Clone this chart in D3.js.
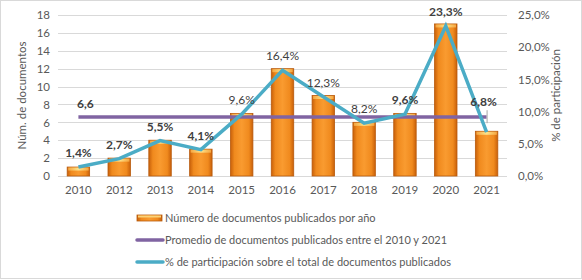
<!DOCTYPE html>
<html>
<head>
<meta charset="utf-8">
<script src="https://cdn.jsdelivr.net/npm/d3@7"></script>
<style>
  html, body { margin: 0; padding: 0; background: #fff; }
  svg { display: block; font-family: Lato, "Open Sans", sans-serif; }
</style>
</head>
<body>
<svg id="chart" width="582" height="280"></svg>
<script>
// --- Data ---
const years = ['2010', '2012', '2013', '2014', '2015', '2016', '2017', '2018', '2019', '2020', '2021'];
const docCounts = [1, 2, 4, 3, 7, 12, 9, 6, 7, 17, 5];
const shareLabels = ['1,4%', '2,7%', '5,5%', '4,1%', '9,6%', '16,4%', '12,3%', '8,2%', '9,6%', '23,3%', '6,8%'];
const shares = [1.4, 2.7, 5.5, 4.1, 9.6, 16.4, 12.3, 8.2, 9.6, 23.3, 6.8];
const average = 6.6;
const leftTicks = [0, 2, 4, 6, 8, 10, 12, 14, 16, 18];
const rightTicks = [0, 5, 10, 15, 20, 25];
const legendLabels = [
    'Número de documentos publicados por año',
    'Promedio de documentos publicados entre el 2010 y 2021',
    '% de participación sobre el total de documentos publicados'
];

const TEXT = '#595959';
const PURPLE = '#8064a2';
const AQUA = '#4bacc6';

const svg = d3.select('#chart');
const plot = { left: 58, right: 507, top: 15, bottom: 176 };

const x = d3.scaleBand().domain(years).range([plot.left, plot.right]).paddingInner(0.45).paddingOuter(0.225);
const y = d3.scaleLinear().domain([0, 18]).range([plot.bottom, plot.top]);
const y2 = d3.scaleLinear().domain([0, 25]).range([plot.bottom, plot.top]);
const cx = d => x(d) + x.bandwidth() / 2;

// frame
svg.append('rect').attr('x', 0.5).attr('y', 0.5).attr('width', 581).attr('height', 278)
   .attr('fill', '#fff').attr('stroke', '#d9d9d9');

// gradients for bars
const defs = svg.append('defs');
const grad = defs.append('linearGradient').attr('id', 'barGrad').attr('x1', '0%').attr('x2', '100%');
grad.append('stop').attr('offset', '0%').attr('stop-color', '#c8600a');
grad.append('stop').attr('offset', '18%').attr('stop-color', '#f08a1e');
grad.append('stop').attr('offset', '50%').attr('stop-color', '#f99b30');
grad.append('stop').attr('offset', '82%').attr('stop-color', '#f08a1e');
grad.append('stop').attr('offset', '100%').attr('stop-color', '#c8600a');
const topGrad = defs.append('linearGradient').attr('id', 'topGrad').attr('x1', '0%').attr('x2', '100%');
topGrad.append('stop').attr('offset', '0%').attr('stop-color', '#f5a640');
topGrad.append('stop').attr('offset', '50%').attr('stop-color', '#fde38a');
topGrad.append('stop').attr('offset', '100%').attr('stop-color', '#f5a640');

// gridlines
svg.append('g').selectAll('line').data(leftTicks.slice(1)).join('line')
   .attr('x1', plot.left).attr('x2', plot.right)
   .attr('y1', d => Math.round(y(d)) + 0.5).attr('y2', d => Math.round(y(d)) + 0.5)
   .attr('stroke', '#d9d9d9').attr('stroke-width', 1);

// left axis
const axL = svg.append('g').attr('transform', `translate(${plot.left},0)`)
   .call(d3.axisLeft(y).tickValues(leftTicks).tickSize(0).tickPadding(8));
axL.select('.domain').remove();
axL.selectAll('text').attr('fill', TEXT).style('font-size', '11.5px').style('font-family', 'Lato, sans-serif');

// right axis
const axR = svg.append('g').attr('transform', `translate(${plot.right},0)`)
   .call(d3.axisRight(y2).tickValues(rightTicks).tickSize(0).tickPadding(11)
         .tickFormat(d => d.toFixed(1).replace('.', ',') + '%'));
axR.select('.domain').remove();
axR.selectAll('text').attr('fill', TEXT).style('font-size', '11.5px').style('font-family', 'Lato, sans-serif');

// bottom axis
svg.append('line').attr('x1', plot.left).attr('x2', plot.right)
   .attr('y1', plot.bottom + 0.5).attr('y2', plot.bottom + 0.5).attr('stroke', '#d9d9d9');
const axB = svg.append('g').attr('transform', `translate(0,${plot.bottom})`)
   .call(d3.axisBottom(x).tickSize(0).tickPadding(10));
axB.select('.domain').remove();
axB.selectAll('text').attr('fill', TEXT).style('font-size', '11.5px').style('font-family', 'Lato, sans-serif');

// axis titles
svg.append('text').attr('transform', `translate(26,${(plot.top + plot.bottom) / 2}) rotate(-90)`)
   .attr('text-anchor', 'middle').attr('fill', TEXT).style('font-size', '11.5px')
   .text('Núm. de documentos');
svg.append('text').attr('transform', `translate(560,${(plot.top + plot.bottom) / 2}) rotate(-90)`)
   .attr('text-anchor', 'middle').attr('fill', TEXT).style('font-size', '11.5px')
   .text('% de participación');

// bars
const bars = svg.append('g').selectAll('g').data(years).join('g');
bars.append('rect')
   .attr('x', d => x(d)).attr('width', x.bandwidth())
   .attr('y', (d, i) => y(docCounts[i])).attr('height', (d, i) => plot.bottom - y(docCounts[i]))
   .attr('fill', 'url(#barGrad)').attr('stroke', '#b85a0c').attr('stroke-width', 0.8);
bars.append('rect')
   .attr('x', d => x(d) + 1).attr('width', x.bandwidth() - 2)
   .attr('y', (d, i) => y(docCounts[i]) + 0.5).attr('height', 3)
   .attr('fill', 'url(#topGrad)');

// average line
svg.append('line')
   .attr('x1', cx(years[0])).attr('x2', cx(years[years.length - 1]))
   .attr('y1', y(average)).attr('y2', y(average))
   .attr('stroke', PURPLE).attr('stroke-width', 3.5);
svg.append('text').attr('x', cx(years[0]) + 7).attr('y', y(average) - 9)
   .attr('text-anchor', 'middle').attr('fill', '#404040').style('font-size', '12px').style('font-weight', 700)
   .text(String(average).replace('.', ','));

// share line
svg.append('path').datum(shares)
   .attr('fill', 'none').attr('stroke', AQUA).attr('stroke-width', 3.5).attr('stroke-linejoin', 'miter')
   .attr('d', d3.line().x((d, i) => cx(years[i])).y(d => y2(d)));

// share labels
const boldIdx = new Set([0, 1, 2, 3, 8, 9, 10]);
const last = years.length - 1;
svg.append('g').selectAll('text').data(shareLabels).join('text')
   .attr('x', (d, i) => cx(years[i]) + (i === last ? -3 : 0))
   .attr('y', (d, i) => i === last ? y2(shares[i]) - 26 : y2(shares[i]) - 10)
   .attr('text-anchor', 'middle').attr('fill', '#404040')
   .style('font-size', '12px').style('font-weight', (d, i) => boldIdx.has(i) ? 700 : 400)
   .text(d => d);
// leader for the last label
svg.append('line')
   .attr('x1', cx(years[last]) + 0.5).attr('x2', cx(years[last]) + 0.5)
   .attr('y1', y2(shares[last]) - 22).attr('y2', y2(shares[last]) - 9)
   .attr('stroke', '#a6a6a6').attr('stroke-width', 1);

// legend
const legend = svg.append('g');
const legY = [218, 240, 262];
legendLabels.forEach((t, i) => {
    const g = legend.append('g').attr('transform', `translate(137,${legY[i]})`);
    if (i === 0) {
        g.append('rect').attr('x', 0).attr('y', -3).attr('width', 25).attr('height', 6)
         .attr('fill', 'url(#barGrad)').attr('stroke', '#b85a0c').attr('stroke-width', 0.8);
        g.append('rect').attr('x', 1).attr('y', -2.5).attr('width', 23).attr('height', 2).attr('fill', '#fbd277');
    } else {
        g.append('line').attr('x1', 0).attr('x2', 26).attr('y1', 0).attr('y2', 0)
         .attr('stroke', i === 1 ? PURPLE : AQUA).attr('stroke-width', 3.5).attr('stroke-linecap', 'round');
    }
    g.append('text').attr('x', 28).attr('y', 0).attr('dy', '0.35em')
     .attr('fill', TEXT).style('font-size', '11px').text(t);
});
</script>
</body>
</html>
